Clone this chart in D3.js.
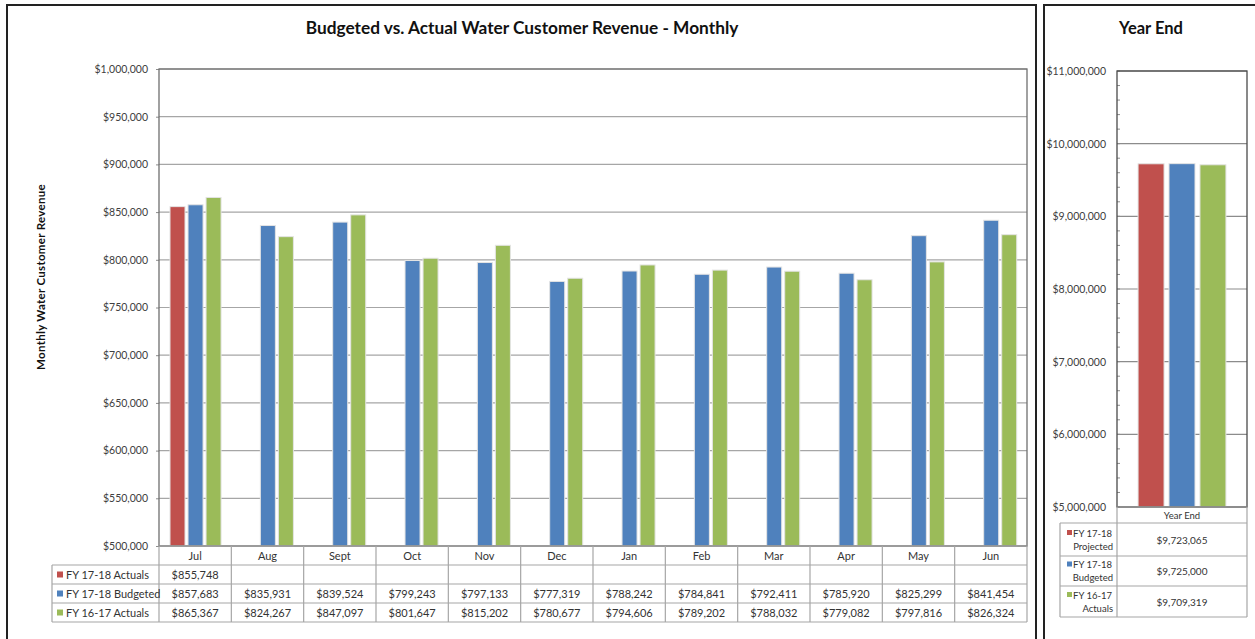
<!DOCTYPE html>
<html>
<head>
<meta charset="utf-8">
<script src="https://cdn.jsdelivr.net/npm/d3@7"></script>
<style>
  body { margin: 0; background: #fff; }
  svg { font-family: Lato, "Open Sans", sans-serif; }
</style>
</head>
<body>
<div id="plot"></div>
<script>
const width = 1255;
const height = 639;

// data
const months = ["Jul", "Aug", "Sept", "Oct", "Nov", "Dec", "Jan", "Feb", "Mar", "Apr", "May", "Jun"];
const seriesNames = ["FY 17-18 Actuals", "FY 17-18 Budgeted", "FY 16-17 Actuals"];
const actuals1718 = [855748, null, null, null, null, null, null, null, null, null, null, null];
const budgeted1718 = [857683, 835931, 839524, 799243, 797133, 777319, 788242, 784841, 792411, 785920, 825299, 841454];
const actuals1617 = [865367, 824267, 847097, 801647, 815202, 780677, 794606, 789202, 788032, 779082, 797816, 826324];
const monthlyTicks = [500000, 550000, 600000, 650000, 700000, 750000, 800000, 850000, 900000, 950000, 1000000];

const yearEndNames = [["FY 17-18", "Projected"], ["FY 17-18", "Budgeted"], ["FY 16-17", "Actuals"]];
const yearEndValues = [9723065, 9725000, 9709319];
const yearEndTicks = [5000000, 6000000, 7000000, 8000000, 9000000, 10000000, 11000000];

const colors = ["#C0504D", "#4F81BD", "#9BBB59"];
const money = d => "$" + d3.format(",")(d);

const svg = d3.select("div#plot")
  .append("svg")
  .attr("width", width)
  .attr("height", height);

// panel borders
svg.append("rect")
  .attr("x", 7).attr("y", 5).attr("width", 1029).attr("height", 650)
  .attr("fill", "none").attr("stroke", "#222").attr("stroke-width", 2);
svg.append("rect")
  .attr("x", 1044).attr("y", 5).attr("width", 230).attr("height", 650)
  .attr("fill", "none").attr("stroke", "#222").attr("stroke-width", 2);

// ---------- monthly chart ----------
const m = { left: 159, top: 69, right: 1027, bottom: 546 };

svg.append("text")
  .attr("x", 522).attr("y", 34)
  .attr("text-anchor", "middle")
  .style("font-size", "17.3px").style("font-weight", "bold").attr("fill", "#111")
  .text("Budgeted vs. Actual Water Customer Revenue - Monthly");

svg.append("text")
  .attr("transform", "translate(45,277) rotate(-90)")
  .attr("text-anchor", "middle")
  .style("font-size", "11.5px").style("font-weight", "bold")
  .style("letter-spacing", "0.3px").attr("fill", "#111")
  .text("Monthly Water Customer Revenue");

const x0 = d3.scaleBand().domain(months).range([m.left, m.right]);
const x1 = d3.scaleBand().domain(seriesNames)
  .range([x0.bandwidth() * 0.152, x0.bandwidth() * 0.858]).paddingInner(0.167);
const y = d3.scaleLinear().domain([500000, 1000000]).range([m.bottom, m.top]);

const g = svg.append("g");

g.selectAll(".grid").data(monthlyTicks).enter().append("line")
  .attr("x1", m.left).attr("x2", m.right)
  .attr("y1", d => y(d)).attr("y2", d => y(d))
  .attr("stroke", "#a6a6a6").attr("stroke-width", 1.2);

const yAxis = g.append("g")
  .attr("transform", `translate(${m.left},0)`)
  .call(d3.axisLeft(y).tickValues(monthlyTicks).tickFormat(money).tickSize(3).tickPadding(8));
yAxis.select(".domain").remove();
yAxis.selectAll("line").attr("stroke", "#8c8c8c");
yAxis.selectAll("text").style("font-size", "10.5px").attr("fill", "#404040")
  .style("font-family", "Lato, sans-serif");

const rows = [actuals1718, budgeted1718, actuals1617];
const barData = [];
rows.forEach((arr, si) => arr.forEach((v, mi) => {
  if (v != null) barData.push({ month: months[mi], series: seriesNames[si], value: v, si });
}));

g.selectAll(".bar").data(barData).enter().append("rect")
  .attr("x", d => x0(d.month) + x1(d.series))
  .attr("y", d => y(d.value))
  .attr("width", x1.bandwidth())
  .attr("height", d => y(500000) - y(d.value))
  .attr("fill", d => colors[d.si])
  .attr("stroke", "#e4e4e4").attr("stroke-width", 1);

g.append("rect")
  .attr("x", m.left).attr("y", m.top)
  .attr("width", m.right - m.left).attr("height", m.bottom - m.top)
  .attr("fill", "none").attr("stroke", "#6f6f6f").attr("stroke-width", 1.3);

// data table
const rowH = 19;
const tTop = m.bottom;
const legendLeft = 52;
const lineColor = "#a6a6a6";
const tbl = svg.append("g");

// horizontal lines
[0, 1, 2, 3, 4].forEach(i => {
  tbl.append("line")
    .attr("x1", i === 0 ? m.left : legendLeft).attr("x2", m.right)
    .attr("y1", tTop + i * rowH).attr("y2", tTop + i * rowH)
    .attr("stroke", lineColor).attr("stroke-width", 1.2);
});
// vertical lines
months.forEach(mo => {
  tbl.append("line")
    .attr("x1", x0(mo)).attr("x2", x0(mo))
    .attr("y1", tTop).attr("y2", tTop + 4 * rowH)
    .attr("stroke", lineColor).attr("stroke-width", 1.2);
});
tbl.append("line")
  .attr("x1", m.right).attr("x2", m.right)
  .attr("y1", tTop).attr("y2", tTop + 4 * rowH)
  .attr("stroke", lineColor).attr("stroke-width", 1.2);
tbl.append("line")
  .attr("x1", legendLeft).attr("x2", legendLeft)
  .attr("y1", tTop + rowH).attr("y2", tTop + 4 * rowH)
  .attr("stroke", lineColor).attr("stroke-width", 1.2);

tbl.selectAll(".mlabel").data(months).enter().append("text")
  .attr("x", d => x0(d) + x0.bandwidth() / 2)
  .attr("y", tTop + rowH / 2 + 4)
  .attr("text-anchor", "middle")
  .style("font-size", "11px").attr("fill", "#333")
  .text(d => d);

seriesNames.forEach((name, si) => {
  const ry = tTop + (si + 1) * rowH;
  tbl.append("rect")
    .attr("x", 57).attr("y", ry + rowH / 2 - 3)
    .attr("width", 6).attr("height", 6)
    .attr("fill", colors[si]);
  tbl.append("text")
    .attr("x", 66).attr("y", ry + rowH / 2 + 4)
    .style("font-size", "11px").attr("fill", "#333")
    .text(name);
  tbl.selectAll(".val" + si).data(rows[si]).enter().append("text")
    .attr("x", (d, i) => x0(months[i]) + x0.bandwidth() / 2)
    .attr("y", ry + rowH / 2 + 4)
    .attr("text-anchor", "middle")
    .style("font-size", "11px").attr("fill", "#333")
    .text(d => d == null ? "" : money(d));
});

// ---------- year end chart ----------
const r = { left: 1117, top: 71, right: 1247, bottom: 507 };

svg.append("text")
  .attr("x", 1151).attr("y", 34)
  .attr("text-anchor", "middle")
  .style("font-size", "16.5px").style("font-weight", "bold").attr("fill", "#111")
  .text("Year End");

const yr = d3.scaleLinear().domain([5000000, 11000000]).range([r.bottom, r.top]);
const xr = d3.scaleBand().domain(["Year End"]).range([r.left, r.right]);
const xr1 = d3.scaleBand().domain([0, 1, 2])
  .range([xr.bandwidth() * 0.162, xr.bandwidth() * 0.838]).paddingInner(0.16);

const rg = svg.append("g");
rg.selectAll(".grid").data(yearEndTicks).enter().append("line")
  .attr("x1", r.left).attr("x2", r.right)
  .attr("y1", d => yr(d)).attr("y2", d => yr(d))
  .attr("stroke", "#8c8c8c").attr("stroke-width", 1.2);

const minorTicks = d3.range(5000000, 11000001, 200000);
rg.selectAll(".minor").data(minorTicks).enter().append("line")
  .attr("x1", r.left).attr("x2", r.left + 3)
  .attr("y1", d => yr(d)).attr("y2", d => yr(d))
  .attr("stroke", "#8c8c8c");

const ryAxis = rg.append("g")
  .attr("transform", `translate(${r.left},0)`)
  .call(d3.axisLeft(yr).tickValues(yearEndTicks).tickFormat(money).tickSize(0).tickPadding(11));
ryAxis.select(".domain").remove();
ryAxis.selectAll("text").style("font-size", "10.5px").attr("fill", "#404040")
  .style("font-family", "Lato, sans-serif");

rg.selectAll(".bar").data(yearEndValues).enter().append("rect")
  .attr("x", (d, i) => xr("Year End") + xr1(i))
  .attr("y", d => yr(d))
  .attr("width", xr1.bandwidth())
  .attr("height", d => yr(5000000) - yr(d))
  .attr("fill", (d, i) => colors[i])
  .attr("stroke", "#e4e4e4").attr("stroke-width", 1);

rg.append("rect")
  .attr("x", r.left).attr("y", r.top)
  .attr("width", r.right - r.left).attr("height", r.bottom - r.top)
  .attr("fill", "none").attr("stroke", "#4a4a4a").attr("stroke-width", 1.3);

// year end table
const rtHead = 16;
const rtRow = [33, 30, 31];
const rtLegendLeft = 1060;
const rtY = [r.bottom, r.bottom + rtHead];
rtRow.forEach(h => rtY.push(rtY[rtY.length - 1] + h));

rtY.forEach((yy, i) => {
  rg.append("line")
    .attr("x1", i === 0 ? r.left : rtLegendLeft).attr("x2", r.right)
    .attr("y1", yy).attr("y2", yy)
    .attr("stroke", lineColor).attr("stroke-width", 1.2);
});
[[r.left, rtY[0]], [r.right, rtY[0]], [rtLegendLeft, rtY[1]]].forEach(([xx, y0]) => {
  rg.append("line")
    .attr("x1", xx).attr("x2", xx)
    .attr("y1", y0).attr("y2", rtY[4])
    .attr("stroke", lineColor).attr("stroke-width", 1.2);
});

rg.append("text")
  .attr("x", (r.left + r.right) / 2).attr("y", r.bottom + 12)
  .attr("text-anchor", "middle")
  .style("font-size", "9.5px").attr("fill", "#333")
  .text("Year End");

yearEndNames.forEach((lines, i) => {
  const top = rtY[i + 1];
  const mid = top + rtRow[i] / 2;
  rg.append("rect")
    .attr("x", 1067).attr("y", mid - 9.5)
    .attr("width", 5).attr("height", 5)
    .attr("fill", colors[i]);
  rg.append("text")
    .attr("x", 1112).attr("y", mid - 3)
    .attr("text-anchor", "end")
    .style("font-size", "9.5px").attr("fill", "#333")
    .text(lines[0]);
  rg.append("text")
    .attr("x", 1113).attr("y", mid + 10)
    .attr("text-anchor", "end")
    .style("font-size", "9.5px").attr("fill", "#333")
    .text(lines[1]);
  rg.append("text")
    .attr("x", (r.left + r.right) / 2).attr("y", mid + 4)
    .attr("text-anchor", "middle")
    .style("font-size", "10px").attr("fill", "#333")
    .text(money(yearEndValues[i]));
});
</script>
</body>
</html>
